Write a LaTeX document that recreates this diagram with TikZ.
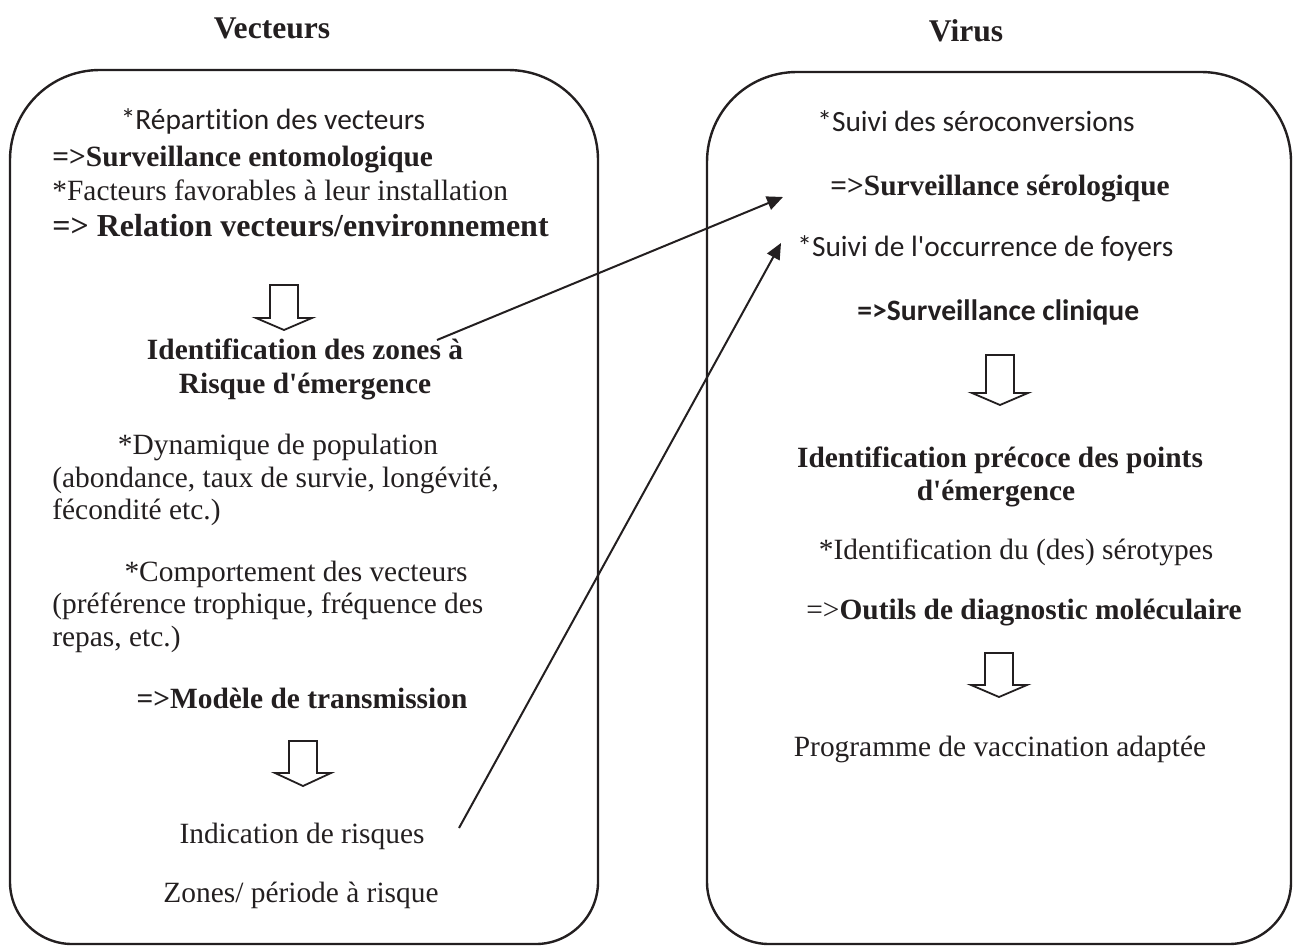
\documentclass[tikz,border=0pt]{standalone}
\usepackage{fontspec}
\setmainfont[Ligatures=TeXOff]{Liberation Serif}
\newfontfamily\calibrifont[Ligatures={TeXOff,NoCommon}]{Carlito}
\usetikzlibrary{arrows.meta}
\definecolor{ink}{HTML}{231F20}
\newcommand\hollowdown[4]{% cx, top, base, tip
  \draw[blockarrow] (#1-14,#2) -- (#1+14,#2) -- (#1+14,#3) -- (#1+28,#3) -- (#1,#4) -- (#1-28,#3) -- (#1-14,#3) -- cycle;}
\tikzset{
  txt/.style={inner sep=0pt, text=ink, font=\fontsize{14.7}{17}\selectfont},
  btxt/.style={inner sep=0pt, text=ink, font=\fontsize{14.7}{17}\selectfont\bfseries},
  stxt/.style={inner sep=0pt, text=ink, font=\calibrifont\fontsize{14.7}{17}\selectfont},
  sbtxt/.style={inner sep=0pt, text=ink, font=\calibrifont\fontsize{14.8}{17}\selectfont\bfseries},
  ttl/.style={inner sep=0pt, text=ink, font=\fontsize{15.8}{18}\selectfont\bfseries},
  boxline/.style={draw=ink, line width=1.2pt},
  blockarrow/.style={draw=ink, line width=0.9pt, fill=white},
  link/.style={draw=ink, line width=1pt, -{Triangle[length=8pt,width=7pt]}}
}
\begin{document}
\begin{tikzpicture}[x=0.5pt,y=-0.5pt]
\useasboundingbox (0,0) rectangle (1293,946);
% boxes
\draw[boxline] (10,160) .. controls (10,110) and (50,70) .. (100,70) -- (508,70)
  .. controls (558,70) and (598,110) .. (598,160) -- (598,882)
  .. controls (598,916) and (570,944) .. (536,944) -- (72,944)
  .. controls (38,944) and (10,916) .. (10,882) -- cycle;
\draw[boxline] (707,162) .. controls (707,112) and (747,72) .. (797,72) -- (1201,72)
  .. controls (1251,72) and (1291,112) .. (1291,162) -- (1291,882)
  .. controls (1291,916) and (1263,944) .. (1229,944) -- (769,944)
  .. controls (735,944) and (707,916) .. (707,882) -- cycle;
% titles
\node[ttl, anchor=mid] (tvec) at (272,34) {Vecteurs};
\node[ttl, anchor=mid] (tvir) at (966,37) {Virus};
% left column
\node[stxt, anchor=mid] (l1) at (273,125) {*Répartition des vecteurs};
\node[btxt, anchor=mid west] (l2) at (52,162) {=>Surveillance entomologique};
\node[txt, anchor=mid west] (l3) at (52,196) {*Facteurs favorables à leur installation};
\node[inner sep=0pt, text=ink, font=\fontsize{16}{18}\selectfont\bfseries, anchor=mid west] (l4) at (52,232) {=> Relation vecteurs/environnement};
\hollowdown{284}{285}{318}{330}
\node[btxt, anchor=mid] (l5) at (305,355) {Identification des zones à};
\node[btxt, anchor=mid] (l6) at (305,389) {Risque d'émergence};
\node[txt, anchor=mid] (l7) at (278,450) {*Dynamique de population};
\node[txt, anchor=mid west] (l8) at (52,483) {(abondance, taux de survie, longévité,};
\node[txt, anchor=mid west] (l9) at (52,515) {fécondité etc.)};
\node[txt, anchor=mid] (l10) at (296,577) {*Comportement des vecteurs};
\node[txt, anchor=mid west] (l11) at (52,609) {(préférence trophique, fréquence des};
\node[txt, anchor=mid west] (l12) at (52,642) {repas, etc.)};
\node[btxt, anchor=mid] (l13) at (302,704) {=>Modèle de transmission};
\hollowdown{303}{741}{773}{786}
\node[txt, anchor=mid] (l14) at (302,839) {Indication de risques};
\node[txt, anchor=mid] (l15) at (301,898) {Zones/ période à risque};
% right column
\node[stxt, anchor=mid west] (r1) at (817,127) {*Suivi des séroconversions};
\node[btxt, anchor=mid west] (r2) at (830,191) {=>Surveillance sérologique};
\node[stxt, anchor=mid west] (r3) at (797,252) {*Suivi de l'occurrence de foyers};
\node[sbtxt, anchor=mid west] (r4) at (857,316) {=>Surveillance clinique};
\hollowdown{1000}{355}{393}{405}
\node[btxt, anchor=mid] (r5) at (1000,463) {Identification précoce des points};
\node[btxt, anchor=mid] (r6) at (996,496) {d'émergence};
\node[txt, anchor=mid] (r7) at (1016,555) {*Identification du (des) sérotypes};
\node[txt, anchor=mid west] (r8) at (806,615) {=>\textbf{Outils de diagnostic moléculaire}};
\hollowdown{999}{653}{685}{697}
\node[txt, anchor=mid] (r9) at (1000,752) {Programme de vaccination adaptée};
% links
\coordinate (a1s) at (437,340);
\coordinate (a1e) at (783,197);
\coordinate (a2s) at (459,828);
\coordinate (a2e) at (781,243);
\draw[link] (a1s) -- (a1e);
\draw[link] (a2s) -- (a2e);
\end{tikzpicture}
\end{document}
